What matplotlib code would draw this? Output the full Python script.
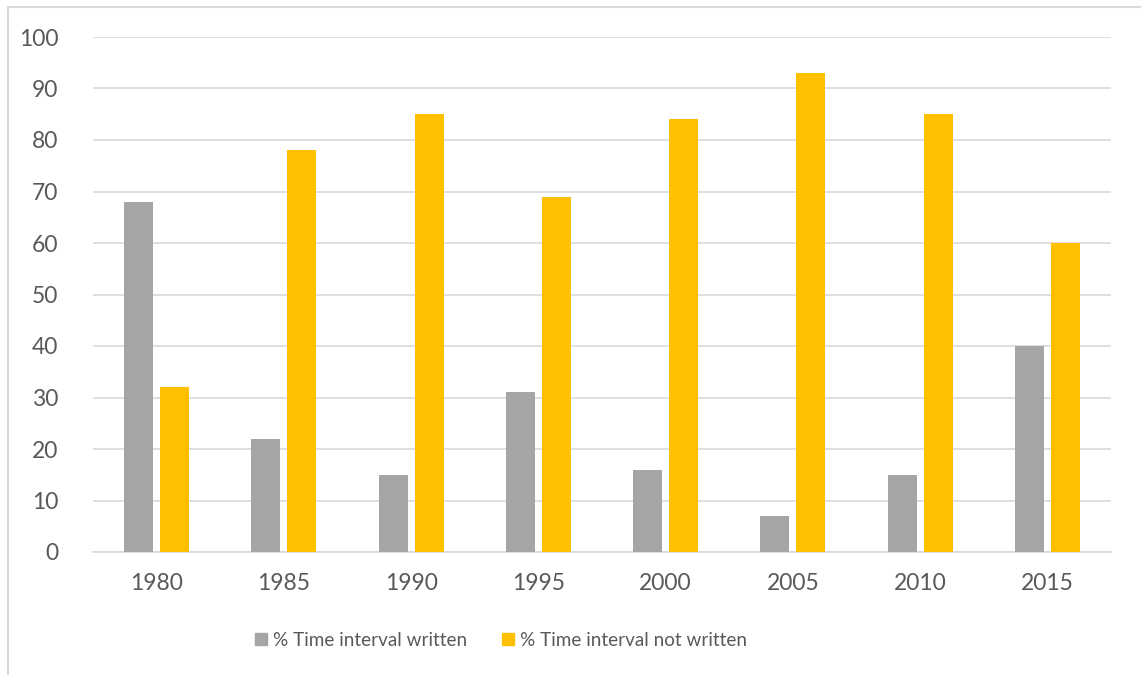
import matplotlib
matplotlib.use("Agg")
import matplotlib.pyplot as plt
import numpy as np
from matplotlib.patches import Rectangle, Patch

years = ["1980", "1985", "1990", "1995", "2000", "2005", "2010", "2015"]
written = [68, 22, 15, 31, 16, 7, 15, 40]
not_written = [32, 78, 85, 69, 84, 93, 85, 60]
yticks = [0, 10, 20, 30, 40, 50, 60, 70, 80, 90, 100]

GRAY = "#A5A5A5"
GOLD = "#FFC000"
TEXT = "#595959"
GRID = "#D9D9D9"

plt.rcParams["font.family"] = ["Lato", "DejaVu Sans"]

W, H = 1141, 675
fig = plt.figure(figsize=(W / 100, H / 100), dpi=100)
fig.patch.set_facecolor("white")

# chart frame
fig.patches.append(Rectangle((8 / W, -0.01), 1.02 - 8 / W, 1 - 7 / H + 0.01,
                             transform=fig.transFigure, fill=False,
                             edgecolor=GRID, linewidth=1.5))

left, right, top, bottom = 93, 1111, 37, 552
ax = fig.add_axes([left / W, 1 - bottom / H, (right - left) / W, (bottom - top) / H])
ax.set_facecolor("none")

x = np.arange(len(years))
bw = 0.228
off = 0.142
ax.bar(x - off, written, bw, color=GRAY, label="% Time interval written", zorder=3)
ax.bar(x + off, not_written, bw, color=GOLD, label="% Time interval not written", zorder=3)

ax.set_xlim(-0.5, len(years) - 0.5)
ax.set_ylim(0, 100)
ax.set_yticks(yticks)
ax.set_yticklabels([str(v) for v in yticks])
ax.set_xticks(x)
ax.set_xticklabels(years)
ax.tick_params(axis="y", length=0, pad=25, labelsize=16.5, labelcolor=TEXT)
ax.tick_params(axis="x", length=0, pad=15, labelsize=16.5, labelcolor=TEXT)
ax.grid(axis="y", color=GRID, linewidth=1.2, zorder=0)
for s in ["top", "right", "left"]:
    ax.spines[s].set_visible(False)
ax.spines["bottom"].set_color(GRID)
ax.spines["bottom"].set_linewidth(1.2)

handles = [Patch(color=GRAY), Patch(color=GOLD)]
fig.legend(handles, ["% Time interval written", "% Time interval not written"],
           loc="center", bbox_to_anchor=(501 / W, 1 - 640 / H),
           ncol=2, frameon=False, fontsize=13.6, labelcolor=TEXT,
           handlelength=0.65, handleheight=0.65, handletextpad=0.3,
           columnspacing=1.85, borderpad=0, borderaxespad=0)

fig.savefig("out.png", dpi=100, facecolor="white")
